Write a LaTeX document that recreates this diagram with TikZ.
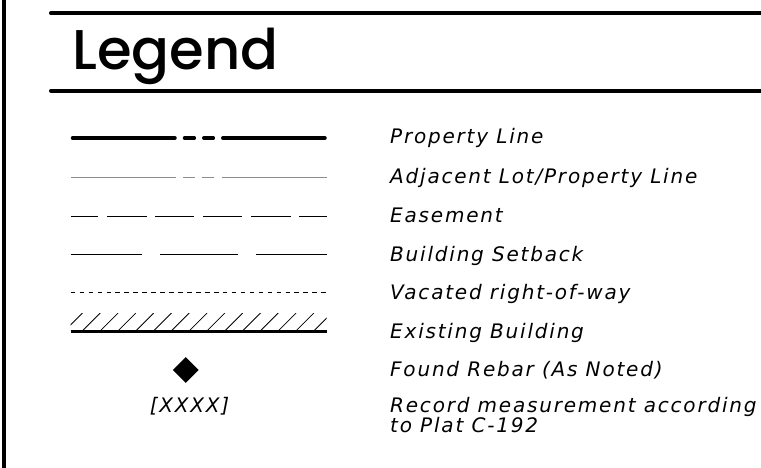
\documentclass[tikz,border=0pt]{standalone}
\usepackage{fontspec}
\usetikzlibrary{shapes.geometric}
\newfontfamily\legendfont{Poppins Medium}
\newfontfamily\cadfont[LetterSpace=9]{DejaVu Sans}
\newcommand\cadtext{\cadfont\itshape\fontsize{20}{24}\selectfont}
\definecolor{adjgray}{HTML}{8C8C8C}
\begin{document}
\begin{tikzpicture}[x=1pt,y=-1pt,
  rule/.style={line width=4pt},
  lbl/.style={anchor=base west,inner sep=0pt,font=\cadtext},
  propline/.style={line width=3.5pt,line cap=round},
  adjline/.style={line width=1.3pt,draw=adjgray},
  easeline/.style={line width=1.5pt},
  setline/.style={line width=1.5pt},
  vacline/.style={line width=1pt,dash pattern=on 4.6pt off 4.35pt},
  hatchline/.style={line width=0.8pt},
  baseline/.style={line width=3.5pt}]
\useasboundingbox (0,0) rectangle (761,468);
\fill[white] (0,0) rectangle (761,468);
% frame
\draw[line width=4pt] (3.7,0) -- (3.7,468);
\coordinate (rt1) at (51,13.3); \coordinate (rt2) at (761,13.3);
\coordinate (rb1) at (51,90.7); \coordinate (rb2) at (761,90.7);
\draw[rule,line cap=round] (rt1) -- (rt2);
\draw[rule,line cap=round] (rb1) -- (rb2);
\node[anchor=base west,inner sep=0pt,font=\legendfont\fontsize{56}{60}\selectfont] (title) at (72,70) {Legend};
% property line
\draw[propline] (72.5,138) -- (175,138);
\draw[propline] (184.5,138) -- (194.3,138);
\draw[propline] (203.8,138) -- (213.3,138);
\draw[propline] (222.8,138) -- (325,138);
% adjacent lot
\draw[adjline] (70.7,177.5) -- (176,177.5);
\draw[adjline] (183.3,177.5) -- (195.3,177.5);
\draw[adjline] (202.3,177.5) -- (214.3,177.5);
\draw[adjline] (221.7,177.5) -- (326.7,177.5);
% easement
\foreach \a/\b in {70.7/98.3,107.3/146.7,155.3/194.3,203.3/242.3,251.3/290.7,299.3/326.7}
  \draw[easeline] (\a,216.7) -- (\b,216.7);
% building setback
\foreach \a/\b in {70.7/141.7,160/237.7,256/326.7}
  \draw[setline] (\a,254.7) -- (\b,254.7);
% vacated
\draw[vacline] (70.7,292.7) -- (326.7,292.7);
% existing building
\begin{scope}
  \clip (70.7,313) rectangle (326.7,331);
  \foreach \k in {-1,...,14}
    \draw[hatchline] (82.3+17.8*\k,331) -- (100.3+17.8*\k,313);
\end{scope}
\draw[baseline] (70.7,331.5) -- (326.7,331.5);
% rebar
\node[diamond,fill=black,inner sep=0pt,minimum width=26pt,minimum height=26pt,shape aspect=1] (rebar) at (185.7,370) {};
\node[anchor=base,inner sep=0pt,font=\cadtext] (rec) at (189.5,412) {[XXXX]};
% labels
\node[lbl] (t1) at (390,144) {Property Line};
\node[lbl] (t2) at (390,183.5) {Adjacent Lot/Property Line};
\node[lbl] (t3) at (390,222.5) {Easement};
\node[lbl] (t4) at (390,261.5) {Building Setback};
\node[lbl] (t5) at (390,299) {Vacated right-of-way};
\node[lbl] (t6) at (390,338) {Existing Building};
\node[lbl] (t7) at (390,376) {Found Rebar (As Noted)};
\node[lbl] (t8) at (390,412) {Record measurement according};
\node[lbl] (t9) at (390,432) {to Plat C-192};
\end{tikzpicture}
\end{document}
